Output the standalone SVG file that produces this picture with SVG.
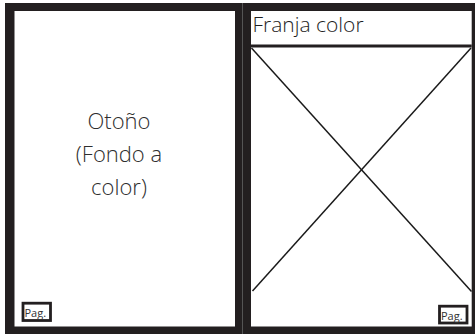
<svg xmlns="http://www.w3.org/2000/svg" width="475" height="334" viewBox="0 0 475 334">
  <style>
    .frame { fill: #231f20; }
    .page { fill: #ffffff; }
    .big { font-family: "Open Sans", "Liberation Sans", sans-serif; font-weight: 300; font-size: 22px; fill: #2e2e2e; text-anchor: middle; }
    .strip { font-family: "Open Sans", "Liberation Sans", sans-serif; font-weight: 300; font-size: 21px; fill: #1e1e1e; }
    .pagbox { fill: #ffffff; stroke: #231f20; stroke-width: 2.8; }
    .pag { font-family: "Open Sans", "Liberation Sans", sans-serif; font-size: 11px; fill: #333333; }
    .cross { stroke: #1a1a1a; stroke-width: 1.5; fill: none; }
  </style>
  <rect x="0" y="0" width="475" height="334" fill="#ffffff"/>
  <g id="left-page">
    <rect class="frame" x="5" y="3" width="238" height="331"/>
    <rect class="page" x="14.5" y="11" width="220.5" height="315.5"/>
    <text class="big" x="119" y="128.5">Otoño</text>
    <text class="big" x="119" y="161.5">(Fondo a</text>
    <text class="big" x="119" y="194.5">color)</text>
    <g id="pag-left">
      <rect class="pagbox" x="23" y="303.2" width="27.5" height="17.3"/>
      <text class="pag" x="24.5" y="316.5">Pag.</text>
    </g>
  </g>
  <g id="right-page">
    <rect class="frame" x="243" y="3" width="232" height="331"/>
    <line x1="242.5" y1="3" x2="242.5" y2="334" stroke="#555555" stroke-width="1"/>
    <rect class="page" x="251" y="11" width="220.7" height="315.5"/>
    <g id="franja">
      <line x1="251" y1="46" x2="471.7" y2="46" stroke="#231f20" stroke-width="3"/>
      <text class="strip" x="252.5" y="32">Franja color</text>
    </g>
    <g id="connectors">
      <line class="cross" x1="251.5" y1="48" x2="471.5" y2="291.5"/>
      <line class="cross" x1="471" y1="48" x2="252.5" y2="291"/>
    </g>
    <g id="pag-right">
      <rect class="pagbox" x="439.5" y="306.2" width="27.5" height="16.8"/>
      <text class="pag" x="441" y="319.5">Pag.</text>
    </g>
  </g>
</svg>
